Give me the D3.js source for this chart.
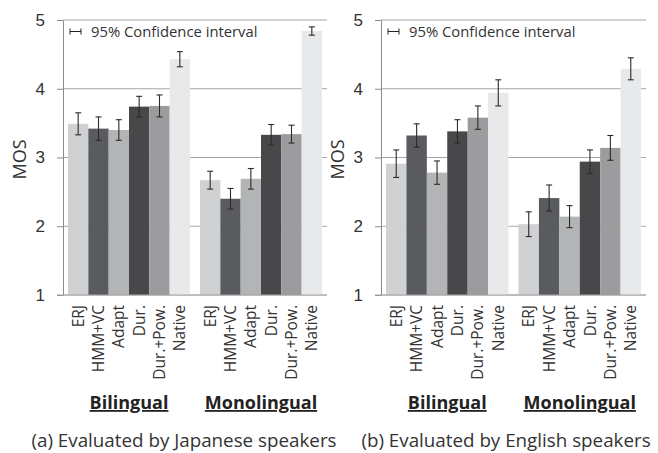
<!DOCTYPE html>
<html>
<head>
<meta charset="utf-8">
<script src="https://cdn.jsdelivr.net/npm/d3@7"></script>
<style>
  body { margin: 0; background: #fff; }
  svg { display: block; font-family: "Open Sans", sans-serif; }
  .axis text { fill: #333; font-size: 17px; }
  .axis .domain { stroke: #8a8a8a; }
  .axis .tick line { stroke: #8a8a8a; }
  .grid line { stroke: #a6a6a6; stroke-width: 1; }
</style>
</head>
<body>
<svg id="chart" width="658" height="453"></svg>
<script>
// ---- data ----
const groups = ['Bilingual', 'Monolingual'];
const systems = ['ERJ', 'HMM+VC', 'Adapt', 'Dur.', 'Dur.+Pow.', 'Native'];
const yTicks = [1, 2, 3, 4, 5];

// (a) Japanese listeners: MOS per group, then 95% CI half width
const japaneseMos = [
    [3.49, 3.42, 3.40, 3.74, 3.75, 4.43],
    [2.67, 2.40, 2.69, 3.33, 3.34, 4.84]
];
const japaneseCi = [
    [0.16, 0.17, 0.15, 0.15, 0.16, 0.11],
    [0.13, 0.15, 0.15, 0.15, 0.13, 0.06]
];

// (b) English listeners
const englishMos = [
    [2.91, 3.32, 2.78, 3.38, 3.58, 3.94],
    [2.03, 2.41, 2.14, 2.94, 3.14, 4.29]
];
const englishCi = [
    [0.20, 0.17, 0.17, 0.17, 0.17, 0.19],
    [0.18, 0.19, 0.16, 0.17, 0.18, 0.16]
];

const captions = ['(a) Evaluated by Japanese speakers', '(b) Evaluated by English speakers'];
const legendLabel = '95% Confidence interval';

const barColors = ['#d0d1d3', '#5a5b5f', '#b3b4b6', '#48484b', '#9c9c9e', '#e8e9eb'];

const svg = d3.select('#chart');

// one panel = one y axis + two groups of six bars
function drawPanel(opts) {
    const { left, right, mos, ci, caption, captionX } = opts;
    const top = 20, bottom = 295;

    const g = svg.append('g');

    const y = d3.scaleLinear().domain([1, 5]).range([bottom, top]);
    const x0 = d3.scaleBand().domain(groups).range([left, right])
        .paddingInner(10 / 132).paddingOuter(5 / 132);
    const x1 = d3.scaleBand().domain(systems).range([0, x0.bandwidth()]);

    // gridlines
    g.append('g').attr('class', 'grid')
        .selectAll('line')
        .data(yTicks)
        .join('line')
        .attr('x1', left).attr('x2', right)
        .attr('y1', d => y(d)).attr('y2', d => y(d));

    // y axis
    g.append('g')
        .attr('class', 'axis')
        .attr('transform', `translate(${left},0)`)
        .call(d3.axisLeft(y).tickValues(yTicks).tickFormat(d3.format('d'))
            .tickSize(6).tickSizeOuter(0).tickPadding(12));

    // MOS title
    g.append('text')
        .attr('transform', `translate(${left - 37},${(top + bottom) / 2 + 2}) rotate(-90)`)
        .attr('text-anchor', 'middle')
        .attr('fill', '#333')
        .style('font-size', '18px')
        .text('MOS');

    // bars
    const rows = [];
    groups.forEach((grp, gi) => {
        systems.forEach((s, si) => {
            rows.push({ group: grp, system: s, i: si, v: mos[gi][si], e: ci[gi][si] });
        });
    });

    const bar = g.append('g').selectAll('g')
        .data(rows)
        .join('g')
        .attr('transform', d => `translate(${x0(d.group) + x1(d.system)},0)`);

    bar.append('rect')
        .attr('x', 0)
        .attr('y', d => y(d.v))
        .attr('width', x1.bandwidth())
        .attr('height', d => y(1) - y(d.v))
        .attr('fill', d => barColors[d.i]);

    // bottom line drawn again over the bars
    g.append('line')
        .attr('x1', left - 6).attr('x2', right)
        .attr('y1', y(1)).attr('y2', y(1))
        .attr('stroke', '#a6a6a6');

    // error bars
    const cx = x1.bandwidth() / 2;
    const err = bar.append('g').attr('stroke', '#2b2b2b').attr('stroke-width', 1.1);
    err.append('line')
        .attr('x1', cx).attr('x2', cx)
        .attr('y1', d => y(d.v + d.e)).attr('y2', d => y(d.v - d.e));
    err.append('line')
        .attr('x1', cx - 3).attr('x2', cx + 3)
        .attr('y1', d => y(d.v + d.e)).attr('y2', d => y(d.v + d.e));
    err.append('line')
        .attr('x1', cx - 3).attr('x2', cx + 3)
        .attr('y1', d => y(d.v - d.e)).attr('y2', d => y(d.v - d.e));

    // category labels, rotated
    bar.append('text')
        .attr('transform', `translate(${cx},${bottom + 10}) rotate(-90)`)
        .attr('text-anchor', 'end')
        .attr('dy', '0.36em')
        .attr('fill', '#333')
        .style('font-size', '15.5px')
        .text(d => d.system);

    // group labels
    g.append('g').selectAll('text')
        .data(groups)
        .join('text')
        .attr('x', d => x0(d) + x0.bandwidth() / 2)
        .attr('y', 409)
        .attr('text-anchor', 'middle')
        .attr('fill', '#222')
        .style('font-size', '18px')
        .style('font-weight', 'bold')
        .style('text-decoration', 'underline')
        .text(d => d);

    // legend
    const lg = g.append('g').attr('transform', `translate(${left + 7},31.5)`);
    lg.append('path')
        .attr('d', 'M0,-3V3M0,0H11M11,-3V3')
        .attr('stroke', '#222').attr('fill', 'none');
    lg.append('text')
        .attr('x', 21).attr('y', 5.5)
        .attr('fill', '#333')
        .style('font-size', '14.8px')
        .text(legendLabel);

    // caption
    g.append('text')
        .attr('x', captionX).attr('y', 447)
        .attr('text-anchor', 'middle')
        .attr('fill', '#333')
        .style('font-size', '18.8px')
        .text(caption);
}

drawPanel({ left: 63, right: 327, mos: japaneseMos, ci: japaneseCi, caption: captions[0], captionX: 184 });
drawPanel({ left: 381, right: 646, mos: englishMos, ci: englishCi, caption: captions[1], captionX: 506 });
</script>
</body>
</html>
